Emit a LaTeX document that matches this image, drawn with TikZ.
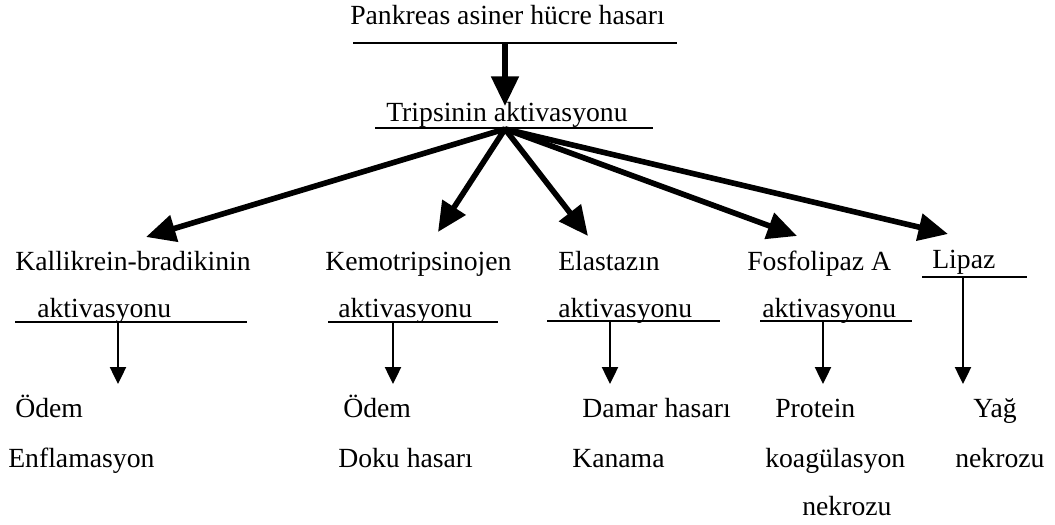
\documentclass[tikz,border=0pt]{standalone}
\usepackage{fontspec}
\setmainfont{Liberation Serif}
\usetikzlibrary{arrows.meta}
\tikzstyle{txt} = [inner sep=0pt, anchor=base west, font=\fontsize{19.7}{24}\selectfont]
\tikzstyle{rule} = [line width=0.9pt]
\tikzstyle{bigarrow} = [line width=4pt, -{Triangle[length=21pt,width=19pt]}]
\tikzstyle{smallarrow} = [line width=1pt, -{Triangle[length=12pt,width=11.5pt]}]

\begin{document}
\begin{tikzpicture}[x=0.025cm, y=-0.025cm]
\useasboundingbox (0,0) rectangle (1055,525);

% top
\node (hasar) [txt] at (350,25) {Pankreas asiner hücre hasarı};
\node (trip) [txt] at (386,122) {Tripsinin aktivasyonu};
\coordinate (hasarL) at (353,43);
\coordinate (hasarR) at (677,43);
\coordinate (hasarU) at (505,43);
\coordinate (tripL) at (375,128);
\coordinate (tripR) at (653,128);
\coordinate (tripU) at (505,129);
\coordinate (tripIn) at (505,106);
\draw [rule] (hasarL) -- (hasarR);
\draw [rule] (tripL) -- (tripR);
\draw [bigarrow] (hasarU) -- (tripIn);

% enzymes
\node (kal) [txt] at (15,271) {Kallikrein-bradikinin};
\node (kalb) [txt] at (37,318) {aktivasyonu};
\node (kem) [txt] at (325,271) {Kemotripsinojen};
\node (kemb) [txt] at (338,318) {aktivasyonu};
\node (ela) [txt] at (558,271) {Elastazın};
\node (elab) [txt] at (558,318) {aktivasyonu};
\node (fos) [txt] at (747,271) {Fosfolipaz A};
\node (fosb) [txt] at (762,318) {aktivasyonu};
\node (lip) [txt] at (932,269) {Lipaz};

\coordinate (kalIn) at (146,237);
\coordinate (kemIn) at (438,232);
\coordinate (elaIn) at (588,236);
\coordinate (fosIn) at (797,236);
\coordinate (lipIn) at (948,234);
\draw [bigarrow] (tripU) -- (kalIn);
\draw [bigarrow] (tripU) -- (kemIn);
\draw [bigarrow] (tripU) -- (elaIn);
\draw [bigarrow] (tripU) -- (fosIn);
\draw [bigarrow] (tripU) -- (lipIn);

% underlines
\draw [rule] (15,322) coordinate (kalL) -- (247,322) coordinate (kalR);
\draw [rule] (328,322) coordinate (kemL) -- (498,322) coordinate (kemR);
\draw [rule] (547,321) coordinate (elaL) -- (720,321) coordinate (elaR);
\draw [rule] (760,321) coordinate (fosL) -- (912,321) coordinate (fosR);
\draw [rule] (922,277) coordinate (lipL) -- (1027,277) coordinate (lipR);

% results
\node (kal1) [txt] at (15,418) {Ödem};
\node (kal2) [txt] at (8,468) {Enflamasyon};
\node (kem1) [txt] at (343,418) {Ödem};
\node (kem2) [txt] at (338,468) {Doku hasarı};
\node (ela1) [txt] at (582,418) {Damar hasarı};
\node (ela2) [txt] at (572,468) {Kanama};
\node (fos1) [txt] at (775,418) {Protein};
\node (fos2) [txt] at (765,468) {koagülasyon};
\node (fos3) [txt] at (802,515) {nekrozu};
\node (lip1) [txt] at (973,418) {Yağ};
\node (lip2) [txt] at (955,468) {nekrozu};

\coordinate (kalU) at (118,322);
\coordinate (kemU) at (393,322);
\coordinate (elaU) at (610,321);
\coordinate (fosU) at (823,321);
\coordinate (lipU) at (963,277);
\coordinate (kalOut) at (118,384);
\coordinate (kemOut) at (393,384);
\coordinate (elaOut) at (610,384);
\coordinate (fosOut) at (823,384);
\coordinate (lipOut) at (963,384);
\draw [smallarrow] (kalU) -- (kalOut);
\draw [smallarrow] (kemU) -- (kemOut);
\draw [smallarrow] (elaU) -- (elaOut);
\draw [smallarrow] (fosU) -- (fosOut);
\draw [smallarrow] (lipU) -- (lipOut);
\end{tikzpicture}
\end{document}
